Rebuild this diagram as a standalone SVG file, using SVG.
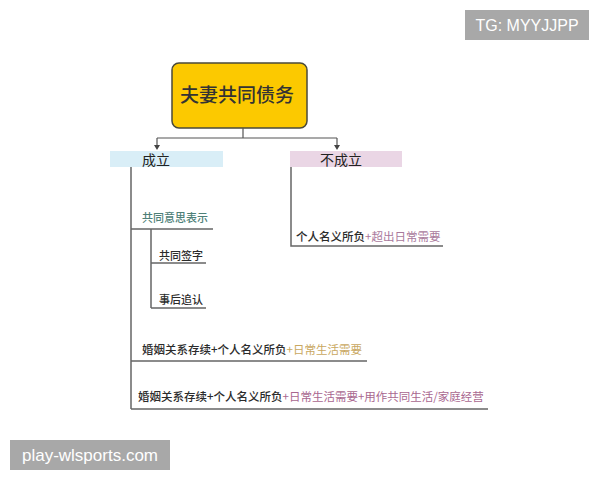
<svg xmlns="http://www.w3.org/2000/svg" width="600" height="480" viewBox="0 0 600 480">
<defs>
<style>
.t{font-family:"Noto Sans CJK SC","Noto Sans",sans-serif;font-size:11.5px;font-weight:500;fill:#2b2b2b}
.ln{stroke:#666;stroke-width:1.5;fill:none}
.wm{font-family:"Liberation Sans",Arial,sans-serif;fill:#fff}
</style>
</defs>
<rect width="600" height="480" fill="#fff"/>
<g id="root">
<rect x="172" y="63" width="135" height="65" rx="7" fill="#FCC900" stroke="#4a4a3a" stroke-width="1.5"/>
<text x="237" y="102" text-anchor="middle" style="font-family:'Noto Sans CJK SC',sans-serif;font-size:19px;font-weight:500;fill:#333">夫妻共同债务</text>
</g>
<g id="connectors">
<path class="ln" d="M243,128 V138 M157,138 H337 M157,138 V147 M337,138 V147" style="stroke:#555;stroke-width:1.2"/>
<path d="M154,145 L157,150 L160,145 Z M334,145 L337,150 L340,145 Z" fill="#444"/>
<path class="ln" d="M131,167 V409 M131,229 H213 M151,229 V308 M151,263 H206 M151,308 H206 M131,361 H367 M131,409 H488"/>
<path class="ln" d="M291,167 V246 H443"/>
</g>
<g id="chengli">
<rect x="110" y="151" width="113" height="16" fill="#D9EEF7"/>
<text x="156" y="164.5" text-anchor="middle" class="t" style="font-size:14px;font-weight:normal;fill:#222">成立</text>
</g>
<g id="buchengli">
<rect x="290" y="151" width="112" height="16" fill="#EAD6E5"/>
<text x="341" y="164.5" text-anchor="middle" class="t" style="font-size:14px;font-weight:normal;fill:#222">不成立</text>
</g>
<g id="yisi">
<text x="142" y="222" class="t" style="font-size:11px;fill:#4E8078">共同意思表示</text>
</g>
<g id="qianzi">
<text x="159" y="260" class="t" style="font-size:11px">共同签字</text>
</g>
<g id="zhuiren">
<text x="159" y="304" class="t" style="font-size:11px">事后追认</text>
</g>
<g id="buchengli-item">
<text x="296" y="241" class="t">个人名义所负<tspan style="fill:#A9799C;font-weight:normal">+超出日常需要</tspan></text>
</g>
<g id="item1">
<text x="142" y="354" class="t">婚姻关系存续+个人名义所负<tspan style="fill:#C9A861;font-weight:normal">+日常生活需要</tspan></text>
</g>
<g id="item2">
<text x="138" y="401" class="t">婚姻关系存续+个人名义所负<tspan style="fill:#A9678F;font-weight:normal">+日常生活需要+用作共同生活/家庭经营</tspan></text>
</g>
<g id="wm1">
<rect x="465" y="10" width="124" height="30" fill="#A8A8A8"/>
<text x="527" y="31" text-anchor="middle" class="wm" style="font-size:16px">TG: MYYJJPP</text>
</g>
<g id="wm2">
<rect x="10" y="440" width="160" height="30" fill="#A8A8A8"/>
<text x="90" y="461" text-anchor="middle" class="wm" style="font-size:17px">play-wlsports.com</text>
</g>
</svg>
